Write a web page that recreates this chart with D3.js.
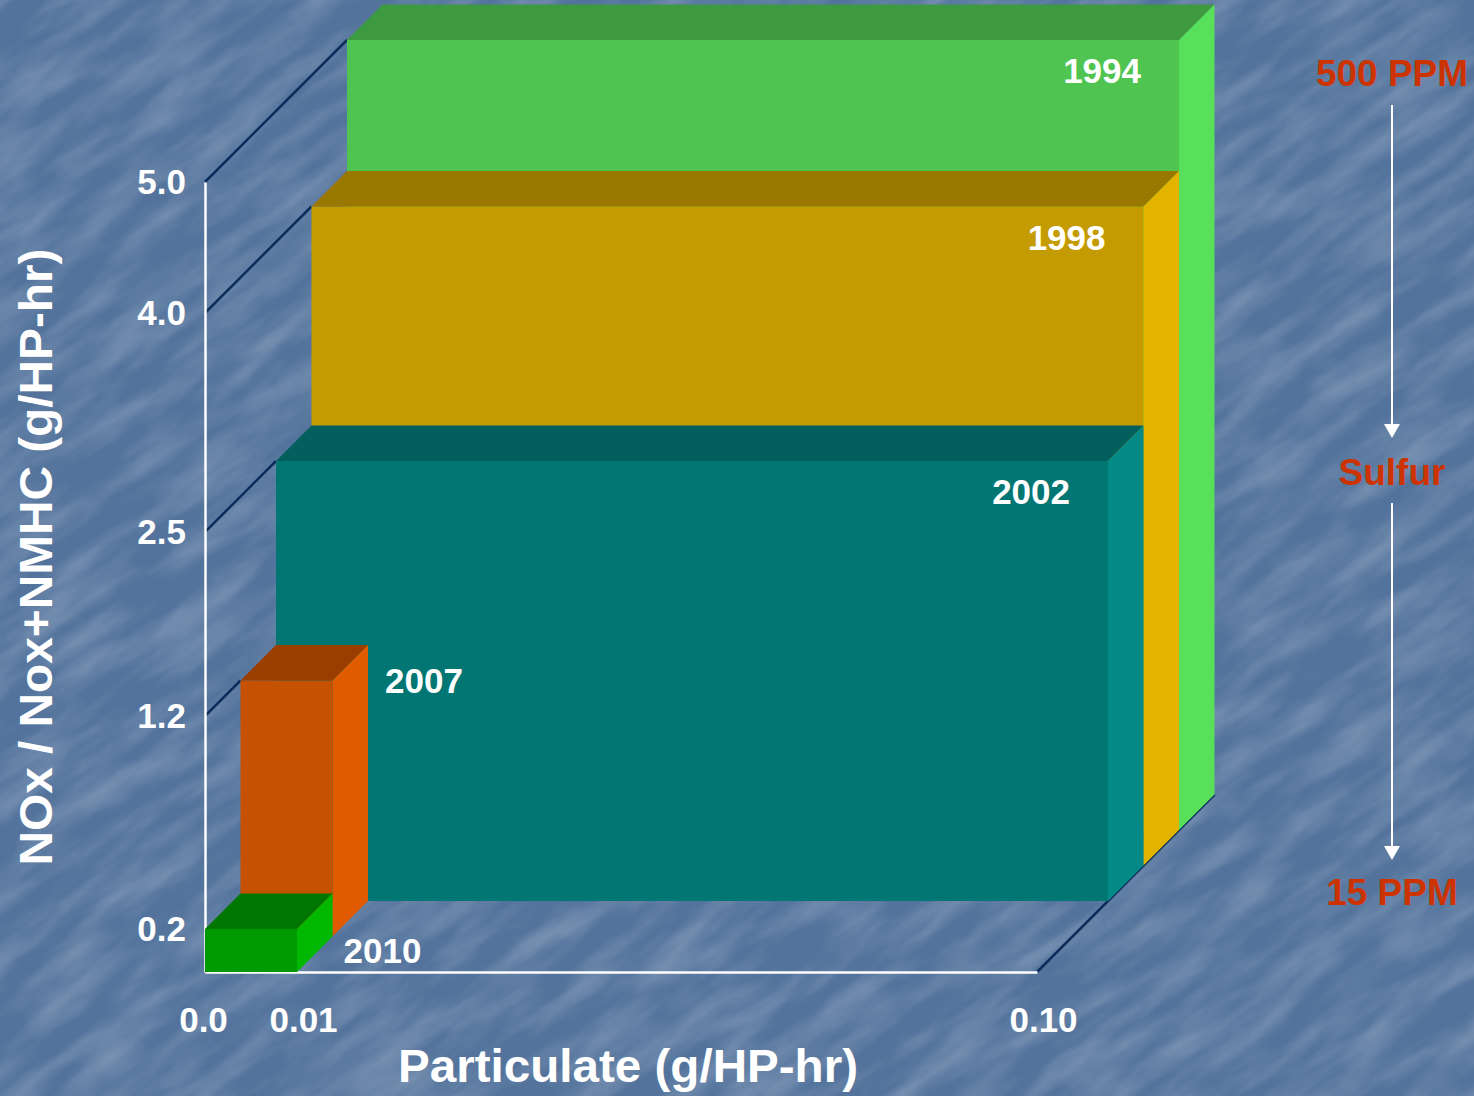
<!DOCTYPE html>
<html>
<head>
<meta charset="utf-8">
<script src="https://cdn.jsdelivr.net/npm/d3@7"></script>
<style>
  body { margin: 0; background: #56769f; }
  svg { display: block; font-family: "Liberation Sans", Arial, sans-serif; font-weight: bold; }
</style>
</head>
<body>
<svg width="1474" height="1096"></svg>
<script>
// emission standards, one box per model year
const years = ['1994', '1998', '2002', '2007', '2010']
const noxValues = [5.0, 4.0, 2.5, 1.2, 0.2]
const pmValues = [0.10, 0.10, 0.10, 0.01, 0.01]

const yTicks = [0.2, 1.2, 2.5, 4.0, 5.0]
const xTicks = [0, 0.01, 0.10]
const xTickLabels = ['0.0', '0.01', '0.10']

const frontColors = ['#4fc450', '#c49b00', '#027672', '#c45200', '#009a00']
const topColors = ['#3d9a40', '#9a7800', '#035e5e', '#9a3e00', '#007700']
const sideColors = ['#58e05a', '#e2b400', '#038a87', '#e05a00', '#00b800']

const sulfurLabels = ['500 PPM', 'Sulfur', '15 PPM']

var svg = d3.select('svg')

// marble-ish background
var defs = svg.append('defs')
var f = defs.append('filter').attr('id', 'marble').attr('x', 0).attr('y', 0).attr('width', 1).attr('height', 1)
f.append('feTurbulence').attr('type', 'fractalNoise').attr('baseFrequency', '0.01 0.04')
    .attr('numOctaves', 4).attr('seed', 11)
f.append('feColorMatrix').attr('type', 'matrix')
    .attr('values', '0 0 0 0 1  0 0 0 0 1  0 0 0 0 1  0.4 0 0 0 -0.14')
f.append('feGaussianBlur').attr('stdDeviation', 1)

svg.append('rect').attr('width', 1474).attr('height', 1096).attr('fill', '#53739c')
svg.append('g').attr('transform', 'rotate(-35 737 548)')
    .append('rect').attr('x', -600).attr('y', -600).attr('width', 2700).attr('height', 2300)
    .attr('filter', 'url(#marble)')

// non-linear axes, as in the original slide
let y = d3.scaleLinear().domain([0, 0.2, 1.2, 2.5, 4.0, 5.0]).range([972, 929, 716, 532, 313, 182])
let x = d3.scaleLinear().domain([0, 0.01, 0.10]).range([205, 297, 1037])

// depth step between rows of boxes
const dx = 35.5, dy = 35.5
const n = years.length

// back floor edge and depth lines from the ticks
svg.append('line')
    .attr('x1', x(0.10)).attr('y1', y(0))
    .attr('x2', x(0.10) + n * dx).attr('y2', y(0) - n * dy)
    .attr('stroke', '#0d2d5c').attr('stroke-width', 2.5)

svg.append('g').selectAll('line')
    .data(yTicks)
    .enter().append('line')
    .attr('x1', x(0)).attr('y1', d => y(d))
    .attr('x2', d => x(0) + (n - 1 - noxValues.indexOf(d)) * dx)
    .attr('y2', d => y(d) - (n - 1 - noxValues.indexOf(d)) * dy)
    .attr('stroke', '#0d2d5c').attr('stroke-width', 2.5)

// axes
let yAxis = svg.append('g').attr('transform', 'translate(' + x(0) + ',0)')
    .call(d3.axisLeft(y).tickValues(yTicks).tickFormat(d3.format('.1f')).tickSize(0).tickPadding(19))
yAxis.select('.domain').attr('stroke', '#fff').attr('stroke-width', 2.5)
yAxis.selectAll('text').attr('fill', '#fff').style('font-size', '35px')
    .style('font-family', '"Liberation Sans", Arial, sans-serif').style('font-weight', 'bold')

let xAxis = svg.append('g').attr('transform', 'translate(0,' + y(0) + ')')
    .call(d3.axisBottom(x).tickValues(xTicks).tickFormat((d, i) => xTickLabels[i]).tickSize(0).tickPadding(35))
xAxis.select('.domain').attr('stroke', '#fff').attr('stroke-width', 2.5)
xAxis.selectAll('text').attr('fill', '#fff').style('font-size', '35px')
    .style('font-family', '"Liberation Sans", Arial, sans-serif').style('font-weight', 'bold')
    .attr('dx', (d, i) => i == 0 ? -2 : 6)

// boxes, back to front
let boxes = years.map((yr, i) => {
    let k = n - 1 - i
    let x0 = x(0) + k * dx, x1 = x(pmValues[i]) + k * dx
    let yt = y(noxValues[i]) - k * dy, yb = y(0) - k * dy
    return { yr: yr, i: i, x0: x0, x1: x1, yt: yt, yb: yb }
})

let box = svg.append('g').selectAll('g')
    .data(boxes)
    .enter().append('g')

box.append('rect')
    .attr('x', d => d.x0).attr('y', d => d.yt)
    .attr('width', d => d.x1 - d.x0).attr('height', d => d.yb - d.yt)
    .attr('fill', d => frontColors[d.i])

box.append('path')
    .attr('d', d => 'M' + d.x0 + ',' + d.yt + 'L' + d.x1 + ',' + d.yt +
        'L' + (d.x1 + dx) + ',' + (d.yt - dy) + 'L' + (d.x0 + dx) + ',' + (d.yt - dy) + 'Z')
    .attr('fill', d => topColors[d.i])

box.append('path')
    .attr('d', d => 'M' + d.x1 + ',' + d.yt + 'L' + (d.x1 + dx) + ',' + (d.yt - dy) +
        'L' + (d.x1 + dx) + ',' + (d.yb - dy) + 'L' + d.x1 + ',' + d.yb + 'Z')
    .attr('fill', d => sideColors[d.i])

// year labels: inside for the wide boxes, beside the narrow ones
box.append('text')
    .attr('fill', '#fff').style('font-size', '35px')
    .attr('text-anchor', d => pmValues[d.i] >= 0.05 ? 'end' : 'start')
    .attr('x', d => pmValues[d.i] >= 0.05 ? d.x1 - 38 : d.x1 + dx + (d.yb - d.yt < 60 ? 11 : 17))
    .attr('y', d => pmValues[d.i] >= 0.05 ? d.yt + 31 : (d.yb - d.yt < 60 ? (d.yt + d.yb) / 2 : d.yt))
    .attr('dy', '0.35em')
    .text(d => d.yr)

// axis titles
svg.append('text')
    .attr('x', 628).attr('y', 1082)
    .attr('text-anchor', 'middle').attr('fill', '#fff').style('font-size', '46px')
    .attr('textLength', 460).attr('lengthAdjust', 'spacingAndGlyphs')
    .text('Particulate (g/HP-hr)')

svg.append('text')
    .attr('transform', 'translate(52,557) rotate(-90)')
    .attr('text-anchor', 'middle').attr('fill', '#fff').style('font-size', '46px')
    .attr('textLength', 617).attr('lengthAdjust', 'spacingAndGlyphs')
    .text('NOx / Nox+NMHC (g/HP-hr)')

// sulfur annotation on the right
let sx = 1392
let sy = [73, 472, 892]
svg.append('g').selectAll('text')
    .data(sulfurLabels)
    .enter().append('text')
    .attr('x', sx).attr('y', (d, i) => sy[i]).attr('dy', '0.35em')
    .attr('text-anchor', 'middle').attr('fill', '#cc3300').style('font-size', '37px')
    .text(d => d)

let arrows = [[105, 438], [503, 860]]
let arr = svg.append('g').selectAll('g').data(arrows).enter().append('g')
arr.append('line')
    .attr('x1', sx).attr('x2', sx).attr('y1', d => d[0]).attr('y2', d => d[1] - 10)
    .attr('stroke', '#fff').attr('stroke-width', 2)
arr.append('path')
    .attr('d', d => 'M' + (sx - 8) + ',' + (d[1] - 14) + 'L' + (sx + 8) + ',' + (d[1] - 14) + 'L' + sx + ',' + d[1] + 'Z')
    .attr('fill', '#fff')
</script>
</body>
</html>
